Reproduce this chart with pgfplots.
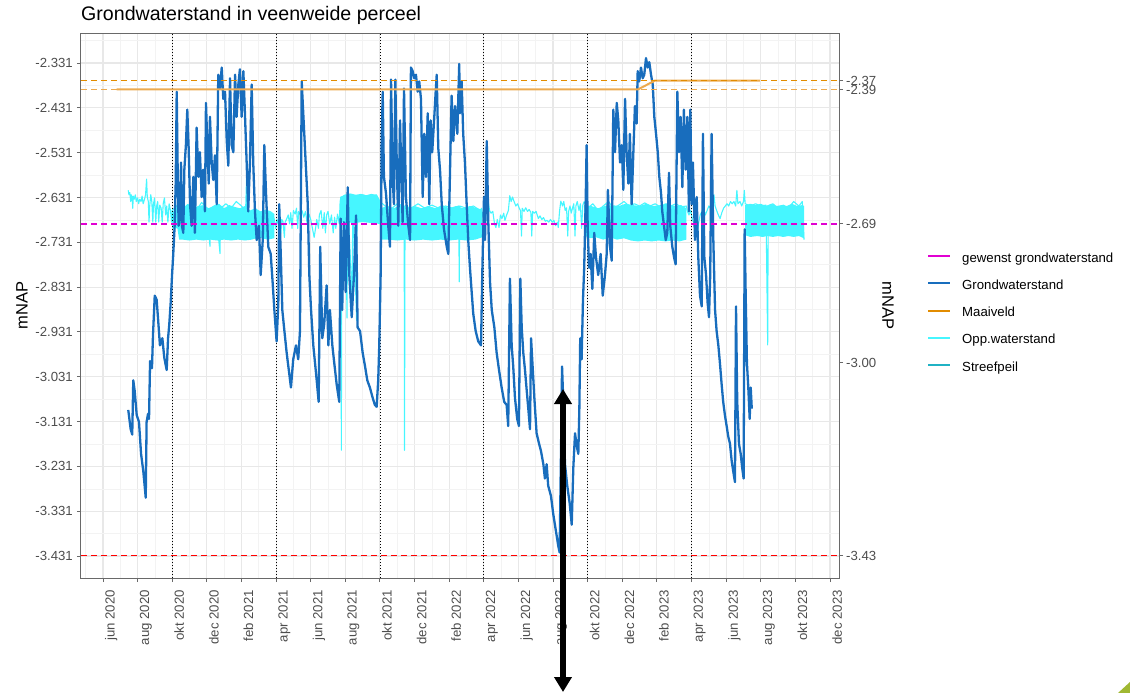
\documentclass[border=0pt]{standalone}
\usepackage{pgfplots}
\pgfplotsset{compat=1.18}
\usepackage{fontspec}
\setmainfont{Liberation Sans}
\usetikzlibrary{arrows.meta}

\definecolor{gwblue}{RGB}{24,109,189}
\definecolor{oppcyan}{RGB}{70,246,255}
\definecolor{streef}{RGB}{32,178,196}
\definecolor{maai}{RGB}{226,140,0}
\definecolor{maailight}{RGB}{236,170,80}
\definecolor{gewenst}{RGB}{225,0,210}
\definecolor{gridmaj}{RGB}{232,232,232}
\definecolor{gridmin}{RGB}{243,243,243}
\definecolor{ticktext}{RGB}{77,77,77}
\definecolor{frame}{RGB}{105,105,105}
\definecolor{slidegreen}{RGB}{160,184,50}

\newcommand\ticksize{\fontsize{13.2}{15}\selectfont}
\newcommand\axtitlesize{\fontsize{16.5}{19}\selectfont}

\pgfplotsset{
  panel/.style={
    at={(81pt,-578pt)}, anchor=south west, scale only axis,
    width=758pt, height=545pt,
    xmin=-1.27, xmax=42.52, ymin=-3.480, ymax=-2.264,
  },
  reflevel/.style={color=#1, draw=#1, line width=1.3pt, dash pattern=on 6pt off 4pt},
}

\begin{document}
\begin{tikzpicture}[x=1pt,y=1pt]
\useasboundingbox (0,0) rectangle (1130,-693);

\begin{axis}[
  panel,
  xtick={0,2,...,42},
  xticklabels={jun 2020,aug 2020,okt 2020,dec 2020,feb 2021,apr 2021,jun 2021,aug 2021,okt 2021,dec 2021,feb 2022,apr 2022,jun 2022,aug 2022,okt 2022,dec 2022,feb 2023,apr 2023,jun 2023,aug 2023,okt 2023,dec 2023},
  minor xtick={-1,1,3,...,41},
  ytick={-3.431,-3.331,-3.231,-3.131,-3.031,-2.931,-2.831,-2.731,-2.631,-2.531,-2.431,-2.331},
  yticklabels={-3.431,-3.331,-3.231,-3.131,-3.031,-2.931,-2.831,-2.731,-2.631,-2.531,-2.431,-2.331},
  minor ytick={-3.381,-3.281,-3.181,-3.081,-2.981,-2.881,-2.781,-2.681,-2.581,-2.481,-2.381,-2.281},
  grid=both,
  major grid style={draw=gridmaj, line width=1.1pt},
  minor grid style={draw=gridmin, line width=0.6pt},
  axis line style={draw=frame, line width=1pt},
  tick align=outside,
  major tick length=4pt, minor tick length=0pt,
  tick style={draw=frame, line width=0.9pt},
  xtick pos=left, ytick pos=left,
  xticklabel style={rotate=90, anchor=north east, inner xsep=0pt, inner ysep=2pt, font=\ticksize, text=ticktext},
  yticklabel style={inner sep=0pt, font=\ticksize, text=ticktext},
  xticklabel shift=8pt,
  yticklabel shift=4pt,
  every axis plot/.append style={line join=round},
]

% Opp.waterstand: periods with rapid switching form dense bands
\addplot[fill=oppcyan, draw=none] coordinates {
(4.00,-2.665) (4.30,-2.650) (4.60,-2.655) (4.90,-2.645) (5.20,-2.655) (5.50,-2.650) (5.80,-2.648) (6.10,-2.655) (6.40,-2.650) (6.70,-2.645) (7.00,-2.655) (7.30,-2.648) (7.60,-2.652) (7.90,-2.655) (8.20,-2.650) (8.50,-2.660) (8.80,-2.655) (9.10,-2.662) (9.40,-2.658) (9.70,-2.662) (9.90,-2.668)
(9.90,-2.722) (9.50,-2.725) (9.00,-2.720) (8.60,-2.725) (8.20,-2.727) (7.80,-2.725) (7.40,-2.727) (7.00,-2.725) (6.60,-2.727) (6.20,-2.725) (5.80,-2.727) (5.40,-2.725) (5.00,-2.727) (4.60,-2.725) (4.40,-2.725) (4.30,-2.700) (4.00,-2.700)};
\addplot[fill=oppcyan, draw=none] coordinates {
(13.70,-2.630) (14.00,-2.625) (14.30,-2.622) (14.60,-2.625) (14.90,-2.623) (15.20,-2.626) (15.50,-2.623) (15.80,-2.625) (16.00,-2.640) (16.05,-2.655) (16.40,-2.650) (16.80,-2.655) (17.20,-2.648) (17.60,-2.655) (18.00,-2.650) (18.40,-2.655) (18.80,-2.650) (19.20,-2.655) (19.60,-2.648) (20.00,-2.655) (20.40,-2.650) (20.80,-2.655) (21.20,-2.650) (21.60,-2.655) (21.90,-2.658)
(21.90,-2.720) (21.50,-2.725) (21.00,-2.727) (20.50,-2.725) (20.00,-2.727) (19.50,-2.725) (19.00,-2.727) (18.50,-2.725) (18.00,-2.727) (17.50,-2.725) (17.00,-2.727) (16.50,-2.725) (16.05,-2.725) (16.00,-2.690) (15.50,-2.688) (15.00,-2.686) (14.50,-2.688) (14.00,-2.686) (13.70,-2.686)};
\addplot[fill=oppcyan, draw=none] coordinates {
(27.80,-2.648) (28.20,-2.650) (28.60,-2.655) (29.00,-2.650) (29.40,-2.648) (29.80,-2.650) (30.20,-2.645) (30.60,-2.648) (31.00,-2.650) (31.40,-2.645) (31.80,-2.650) (32.20,-2.648) (32.60,-2.645) (33.00,-2.650) (33.40,-2.648) (33.70,-2.655)
(33.70,-2.725) (33.30,-2.729) (32.90,-2.727) (32.50,-2.729) (32.10,-2.727) (31.70,-2.729) (31.30,-2.727) (30.90,-2.729) (30.50,-2.727) (30.10,-2.722) (29.70,-2.725) (29.30,-2.720) (28.90,-2.725) (28.50,-2.720) (28.10,-2.722) (27.80,-2.715)};
\addplot[fill=oppcyan, draw=none] coordinates {
(37.10,-2.648) (37.40,-2.645) (37.70,-2.648) (38.00,-2.645) (38.30,-2.650) (38.60,-2.645) (38.90,-2.650) (39.20,-2.648) (39.50,-2.650) (39.80,-2.645) (40.10,-2.650) (40.40,-2.648) (40.50,-2.650)
(40.50,-2.722) (40.20,-2.717) (39.90,-2.719) (39.60,-2.717) (39.30,-2.719) (39.00,-2.717) (38.70,-2.719) (38.40,-2.717) (38.10,-2.719) (37.80,-2.717) (37.40,-2.719) (37.10,-2.715)};

% Opp.waterstand: measured series
\addplot[draw=oppcyan, line width=1.1pt] coordinates {
(1.46,-2.615) (1.50,-2.625) (1.55,-2.620) (1.60,-2.640) (1.63,-2.625) (1.68,-2.630) (1.72,-2.655) (1.75,-2.628) (1.80,-2.635) (1.87,-2.625) (1.92,-2.640) (2.00,-2.632) (2.06,-2.645) (2.12,-2.635) (2.20,-2.640) (2.26,-2.628) (2.32,-2.645) (2.40,-2.635) (2.46,-2.625) (2.52,-2.590) (2.56,-2.630) (2.62,-2.640) (2.66,-2.686) (2.70,-2.650) (2.76,-2.625) (2.82,-2.640) (2.88,-2.686) (2.92,-2.645) (2.98,-2.632) (3.05,-2.686) (3.10,-2.650) (3.16,-2.640) (3.22,-2.686) (3.28,-2.648) (3.36,-2.655) (3.42,-2.686) (3.48,-2.645) (3.55,-2.632) (3.62,-2.670) (3.68,-2.650) (3.75,-2.686) (3.82,-2.645) (3.90,-2.660) (3.96,-2.686) (4.00,-2.660)
(4.20,-2.652) (4.50,-2.640) (4.80,-2.655) (5.10,-2.647) (5.40,-2.660) (5.70,-2.642) (6.00,-2.655) (6.18,-2.740) (6.22,-2.655) (6.50,-2.648) (6.76,-2.756) (6.80,-2.655) (7.10,-2.645) (7.40,-2.655) (7.70,-2.640) (8.00,-2.650) (8.24,-2.660) (8.30,-2.580) (8.34,-2.660) (8.60,-2.665) (8.90,-2.660) (9.20,-2.670) (9.50,-2.665) (9.80,-2.670)
(9.90,-2.680) (9.98,-2.700) (10.05,-2.680) (10.12,-2.690) (10.20,-2.675) (10.28,-2.710) (10.33,-2.680) (10.40,-2.685) (10.48,-2.720) (10.52,-2.686) (10.60,-2.680) (10.70,-2.670) (10.78,-2.690) (10.85,-2.665) (10.92,-2.700) (11.00,-2.660) (11.10,-2.668) (11.18,-2.655) (11.25,-2.700) (11.30,-2.662) (11.40,-2.670) (11.50,-2.660) (11.60,-2.675) (11.70,-2.662) (11.80,-2.690) (11.90,-2.668) (12.00,-2.680) (12.10,-2.700) (12.20,-2.720) (12.28,-2.700) (12.35,-2.680) (12.45,-2.700) (12.50,-2.670) (12.60,-2.660) (12.70,-2.700) (12.78,-2.665) (12.85,-2.710) (12.92,-2.670) (13.00,-2.662) (13.10,-2.690) (13.20,-2.670) (13.30,-2.710) (13.38,-2.675) (13.45,-2.700) (13.55,-2.668) (13.65,-2.690)
(13.70,-2.640) (13.75,-2.630) (13.77,-3.195) (13.80,-2.630) (14.00,-2.625) (14.10,-2.900) (14.13,-2.630) (14.40,-2.860) (14.43,-2.628) (14.65,-2.905) (14.68,-2.630) (15.00,-2.625) (15.40,-2.630) (15.80,-2.625) (16.00,-2.640)
(16.30,-2.650) (16.70,-2.655) (17.00,-2.645) (17.40,-2.650) (17.42,-3.195) (17.45,-2.650) (17.80,-2.655) (18.20,-2.645) (18.60,-2.655) (19.00,-2.648) (19.40,-2.655) (19.80,-2.650) (20.20,-2.655) (20.55,-2.650) (20.58,-2.819) (20.61,-2.650) (21.00,-2.655) (21.40,-2.650) (21.80,-2.660)
(21.87,-2.655) (21.95,-2.675) (22.03,-2.660) (22.10,-2.686) (22.17,-2.645) (22.26,-2.640) (22.33,-2.660) (22.42,-2.666) (22.52,-2.662) (22.62,-2.690) (22.70,-2.698) (22.78,-2.680) (22.88,-2.698) (22.96,-2.670) (23.05,-2.678) (23.15,-2.666) (23.22,-2.682) (23.32,-2.670) (23.42,-2.660) (23.50,-2.627) (23.58,-2.640) (23.66,-2.630) (23.75,-2.640) (23.85,-2.650) (23.95,-2.645) (24.05,-2.655) (24.12,-2.660) (24.18,-2.717) (24.22,-2.655) (24.32,-2.662) (24.42,-2.654) (24.52,-2.662) (24.62,-2.658) (24.72,-2.664) (24.77,-2.717) (24.82,-2.662) (24.92,-2.666) (25.02,-2.662) (25.15,-2.678) (25.25,-2.672) (25.35,-2.680) (25.45,-2.676) (25.55,-2.684) (25.65,-2.682) (25.75,-2.686) (25.85,-2.680) (25.95,-2.686) (26.05,-2.682) (26.15,-2.694) (26.25,-2.686) (26.30,-2.698) (26.38,-2.660) (26.45,-2.639) (26.55,-2.650) (26.62,-2.640) (26.70,-2.660) (26.78,-2.654) (26.85,-2.717) (26.90,-2.662) (26.98,-2.650) (27.05,-2.666) (27.12,-2.655) (27.20,-2.645) (27.27,-2.717) (27.32,-2.650) (27.40,-2.640) (27.50,-2.660) (27.58,-2.645) (27.65,-2.700) (27.72,-2.648) (27.80,-2.640)
(28.00,-2.655) (28.30,-2.645) (28.60,-2.660) (28.90,-2.650) (29.20,-2.640) (29.50,-2.655) (29.80,-2.648) (30.10,-2.640) (30.40,-2.650) (30.70,-2.645) (31.00,-2.650) (31.30,-2.643) (31.60,-2.650) (31.90,-2.645) (32.20,-2.652) (32.50,-2.645) (32.80,-2.650) (33.10,-2.645) (33.40,-2.652) (33.70,-2.650)
(33.75,-2.660) (33.85,-2.670) (33.95,-2.660) (34.05,-2.680) (34.15,-2.690) (34.25,-2.700) (34.32,-2.717) (34.40,-2.690) (34.50,-2.670) (34.60,-2.662) (34.70,-2.655) (34.80,-2.670) (34.90,-2.660) (35.00,-2.650) (35.10,-2.655) (35.20,-2.645) (35.30,-2.625) (35.36,-2.650) (35.45,-2.660) (35.55,-2.670) (35.65,-2.678) (35.75,-2.665) (35.85,-2.655) (35.95,-2.650) (36.05,-2.645) (36.15,-2.650) (36.25,-2.640) (36.35,-2.645) (36.45,-2.640) (36.55,-2.650) (36.62,-2.615) (36.68,-2.645) (36.80,-2.640) (36.90,-2.650) (37.00,-2.640) (37.05,-2.615) (37.10,-2.645)
(37.40,-2.650) (37.70,-2.645) (38.00,-2.650) (38.30,-2.648) (38.40,-2.960) (38.43,-2.650) (38.70,-2.645) (39.00,-2.655) (39.30,-2.648) (39.60,-2.655) (39.90,-2.640) (40.20,-2.650) (40.40,-2.640) (40.50,-2.725)};

% Season boundaries (1 October and 1 April)
\addplot[draw=black, line width=0.8pt, dash pattern=on 1pt off 2pt] coordinates {(4,-3.48) (4,-2.264)};
\addplot[draw=black, line width=0.8pt, dash pattern=on 1pt off 2pt] coordinates {(10,-3.48) (10,-2.264)};
\addplot[draw=black, line width=0.8pt, dash pattern=on 1pt off 2pt] coordinates {(16,-3.48) (16,-2.264)};
\addplot[draw=black, line width=0.8pt, dash pattern=on 1pt off 2pt] coordinates {(22,-3.48) (22,-2.264)};
\addplot[draw=black, line width=0.8pt, dash pattern=on 1pt off 2pt] coordinates {(28,-3.48) (28,-2.264)};
\addplot[draw=black, line width=0.8pt, dash pattern=on 1pt off 2pt] coordinates {(34,-3.48) (34,-2.264)};

% Grondwaterstand
\addplot[draw=gwblue, line width=2.3pt] coordinates {
(1.46,-3.105) (1.60,-3.148) (1.69,-3.160) (1.75,-3.039) (1.83,-3.062) (1.95,-3.117) (2.08,-3.132) (2.20,-3.203) (2.33,-3.242) (2.47,-3.301) (2.52,-3.132) (2.60,-3.114) (2.66,-3.125) (2.72,-2.996) (2.83,-3.012) (2.89,-2.937) (2.99,-2.850) (3.10,-2.859) (3.19,-2.906) (3.29,-2.961) (3.43,-2.945) (3.54,-2.988) (3.68,-3.016) (3.76,-2.945) (3.83,-2.914) (3.91,-2.866) (3.99,-2.804)
(4.06,-2.757) (4.14,-2.694) (4.20,-2.600) (4.26,-2.395) (4.32,-2.585) (4.37,-2.694) (4.45,-2.662) (4.51,-2.553) (4.56,-2.694) (4.64,-2.710) (4.70,-2.569) (4.79,-2.514) (4.87,-2.435) (4.95,-2.521) (5.03,-2.646) (5.12,-2.694) (5.22,-2.585) (5.31,-2.710) (5.41,-2.475) (5.51,-2.585) (5.60,-2.530) (5.70,-2.630) (5.79,-2.569) (5.89,-2.662) (5.95,-2.420) (6.03,-2.514) (6.11,-2.600) (6.18,-2.451) (6.28,-2.553) (6.37,-2.592) (6.47,-2.537) (6.57,-2.646) (6.66,-2.357) (6.76,-2.388) (6.86,-2.341) (6.95,-2.411) (7.05,-2.395) (7.15,-2.505) (7.24,-2.560) (7.34,-2.365) (7.43,-2.514) (7.53,-2.530) (7.63,-2.357) (7.72,-2.451) (7.82,-2.379) (7.91,-2.345) (8.01,-2.451) (8.11,-2.349) (8.20,-2.443) (8.30,-2.553) (8.39,-2.662) (8.49,-2.553) (8.59,-2.379) (8.68,-2.553) (8.78,-2.662) (8.88,-2.726) (9.01,-2.694) (9.11,-2.804) (9.23,-2.726) (9.32,-2.514) (9.42,-2.622) (9.55,-2.741) (9.69,-2.757) (9.80,-2.820) (9.90,-2.882)
(10.03,-2.952) (10.13,-2.866) (10.18,-2.646) (10.27,-2.757) (10.36,-2.882) (10.46,-2.921) (10.61,-2.977) (10.76,-3.024) (10.86,-3.055) (10.99,-2.992) (11.15,-2.961) (11.28,-2.992) (11.38,-2.929) (11.48,-2.372) (11.57,-2.443) (11.71,-2.553) (11.83,-2.646) (11.92,-2.804) (12.02,-2.882) (12.15,-2.961) (12.31,-3.024) (12.46,-3.087) (12.55,-2.741) (12.67,-2.945) (12.78,-2.914) (12.92,-2.827) (13.02,-2.961) (13.11,-2.882) (13.25,-2.961) (13.36,-3.000) (13.50,-3.048) (13.65,-3.087) (13.73,-2.678) (13.82,-2.882) (13.92,-2.686) (14.02,-2.842) (14.14,-2.608) (14.23,-2.804) (14.37,-2.898) (14.50,-2.804) (14.62,-2.671) (14.71,-2.921) (14.85,-2.929) (15.00,-2.977) (15.14,-3.008) (15.27,-3.039) (15.42,-3.055) (15.58,-3.078) (15.71,-3.094) (15.81,-3.098) (15.90,-3.039) (15.96,-2.961)
(16.04,-2.804) (16.10,-2.505) (16.16,-2.395) (16.23,-2.585) (16.35,-2.622) (16.48,-2.694) (16.58,-2.741) (16.64,-2.368) (16.74,-2.592) (16.81,-2.646) (16.89,-2.368) (16.97,-2.553) (17.06,-2.694) (17.16,-2.459) (17.26,-2.608) (17.31,-2.686) (17.39,-2.388) (17.50,-2.630) (17.64,-2.694) (17.74,-2.726) (17.79,-2.341) (17.89,-2.349) (17.98,-2.365) (18.08,-2.357) (18.18,-2.395) (18.27,-2.372) (18.37,-2.411) (18.47,-2.630) (18.56,-2.489) (18.66,-2.585) (18.76,-2.443) (18.85,-2.646) (18.93,-2.459) (19.02,-2.530) (19.14,-2.451) (19.22,-2.395) (19.28,-2.357) (19.37,-2.521) (19.47,-2.569) (19.57,-2.646) (19.70,-2.702) (19.86,-2.741) (19.95,-2.757) (20.05,-2.569) (20.14,-2.404) (20.24,-2.505) (20.34,-2.427) (20.47,-2.489) (20.58,-2.333) (20.62,-2.443) (20.72,-2.372) (20.81,-2.489) (20.91,-2.553) (21.01,-2.646) (21.10,-2.726) (21.20,-2.788) (21.30,-2.842) (21.39,-2.890) (21.53,-2.929) (21.68,-2.952) (21.84,-2.961)
(21.91,-2.804) (22.01,-2.630) (22.07,-2.726) (22.17,-2.505) (22.26,-2.686) (22.36,-2.820) (22.46,-2.882) (22.61,-2.921) (22.74,-2.977) (22.88,-3.016) (23.03,-3.055) (23.18,-3.087) (23.32,-3.094) (23.41,-3.141) (23.51,-2.812) (23.61,-2.961) (23.70,-3.008) (23.80,-3.078) (23.93,-3.125) (24.03,-3.141) (24.11,-2.812) (24.19,-2.921) (24.28,-2.977) (24.38,-3.016) (24.48,-3.062) (24.57,-3.102) (24.67,-3.148) (24.73,-2.945) (24.82,-3.008) (24.92,-3.078) (25.05,-3.157) (25.19,-3.180) (25.30,-3.196) (25.44,-3.226) (25.53,-3.258) (25.63,-3.226) (25.72,-3.274) (25.88,-3.297) (26.01,-3.337) (26.17,-3.376) (26.30,-3.408) (26.38,-3.423) (26.46,-3.196) (26.52,-3.008) (26.57,-3.062) (26.69,-3.226) (26.82,-3.274) (26.96,-3.313) (27.08,-3.361) (27.17,-3.235) (27.27,-3.157) (27.38,-3.188) (27.46,-3.203) (27.52,-3.102) (27.57,-2.945) (27.65,-2.992) (27.73,-2.859) (27.80,-2.788) (27.89,-2.630) (27.94,-2.514)
(28.00,-2.694) (28.08,-2.788) (28.17,-2.757) (28.27,-2.835) (28.38,-2.710) (28.48,-2.764) (28.61,-2.804) (28.75,-2.757) (28.87,-2.850) (29.00,-2.804) (29.10,-2.757) (29.17,-2.614) (29.29,-2.741) (29.39,-2.772) (29.48,-2.435) (29.58,-2.530) (29.68,-2.420) (29.77,-2.459) (29.87,-2.553) (29.97,-2.514) (30.06,-2.614) (30.16,-2.411) (30.25,-2.530) (30.35,-2.600) (30.44,-2.489) (30.54,-2.646) (30.64,-2.530) (30.73,-2.427) (30.83,-2.466) (30.89,-2.349) (30.98,-2.372) (31.08,-2.341) (31.18,-2.365) (31.27,-2.357) (31.37,-2.320) (31.47,-2.341) (31.56,-2.329) (31.66,-2.357) (31.76,-2.379) (31.85,-2.451) (31.95,-2.489) (32.05,-2.530) (32.14,-2.585) (32.24,-2.622) (32.31,-2.662) (32.41,-2.694) (32.51,-2.726) (32.60,-2.710) (32.70,-2.576) (32.77,-2.694) (32.89,-2.741) (32.99,-2.764) (33.08,-2.780) (33.18,-2.395) (33.28,-2.530) (33.37,-2.451) (33.47,-2.608) (33.56,-2.435) (33.66,-2.569) (33.76,-2.451) (33.85,-2.662) (33.93,-2.435)
(34.01,-2.646) (34.08,-2.553) (34.20,-2.726) (34.30,-2.630) (34.39,-2.764) (34.49,-2.850) (34.59,-2.874) (34.66,-2.489) (34.74,-2.764) (34.84,-2.804) (34.93,-2.866) (35.01,-2.898) (35.08,-2.804) (35.16,-2.489) (35.26,-2.726) (35.36,-2.882) (35.45,-2.929) (35.55,-2.961) (35.64,-3.000) (35.74,-3.048) (35.83,-3.087) (35.93,-3.117) (36.03,-3.141) (36.12,-3.164) (36.22,-3.180) (36.32,-3.219) (36.41,-3.242) (36.51,-3.266) (36.57,-2.874) (36.64,-3.087) (36.74,-3.180) (36.84,-3.203) (36.93,-3.235) (37.01,-3.258) (37.07,-2.702) (37.13,-2.850) (37.20,-3.000) (37.28,-3.055) (37.36,-3.125) (37.42,-3.055) (37.48,-3.102)};

% Maaiveld
\addplot[draw=maailight, line width=2pt] coordinates {(0.79,-2.39) (30.9,-2.39) (31.9,-2.37) (37.95,-2.37)};
\end{axis}

% Secondary axis with the reference levels
\begin{axis}[
  panel,
  hide x axis,
  axis y line*=right,
  axis line style={draw=none},
  ytick={-3.43,-3.00,-2.69,-2.39,-2.37},
  yticklabels={-3.43,-3.00,-2.69,-2.39,-2.37},
  tick align=outside, major tick length=4pt,
  tick style={draw=frame, line width=0.9pt},
  yticklabel style={inner sep=0pt, anchor=west, font=\ticksize, text=ticktext},
  yticklabel shift=3pt,
]
\addplot[reflevel=maailight, line width=1.5pt] coordinates {(-1.27,-2.39) (42.52,-2.39)};
\addplot[reflevel=maai] coordinates {(-1.27,-2.37) (42.52,-2.37)};
\addplot[reflevel=gewenst] coordinates {(-1.27,-2.69) (42.52,-2.69)};
\addplot[reflevel=red] coordinates {(-1.27,-3.43) (42.52,-3.43)};
\end{axis}

% Titles
\node[anchor=base west, inner sep=0pt, font=\fontsize{19.6}{23}\selectfont] at (81,-20.7) {Grondwaterstand in veenweide perceel};
\node[rotate=90, inner sep=0pt, font=\axtitlesize] at (22,-305.5) {mNAP};
\node[rotate=-90, inner sep=0pt, font=\axtitlesize] at (888,-305.5) {mNAP};

% Legend
\foreach \col/\lab [count=\i from 0] in {gewenst/gewenst grondwaterstand, gwblue/Grondwaterstand, maai/Maaiveld, oppcyan/Opp.waterstand, streef/Streefpeil} {
  \pgfmathsetmacro\ky{-256-27.25*\i}
  \draw[\col, line width=2pt] (928,\ky) -- (950,\ky);
  \node[anchor=base west, inner sep=0pt, font=\ticksize] at (962,\ky-6) {\lab};
}

% Annotation arrow
\draw[line width=6.5pt, {Triangle[width=17pt,length=15pt]}-{Triangle[width=17pt,length=15pt]}] (563,-389) -- (563,-692);

% Slide corner
\fill[slidegreen] (1118,-693) -- (1130,-682) -- (1130,-693) -- cycle;
\end{tikzpicture}
\end{document}
